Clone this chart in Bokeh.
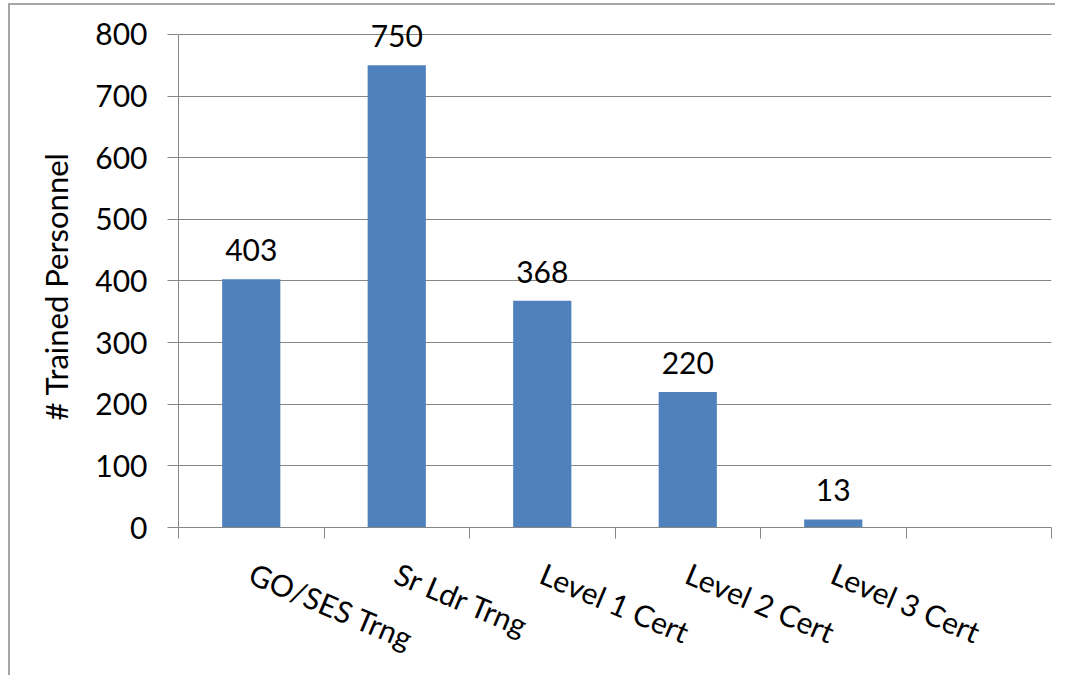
from bokeh.plotting import figure
from bokeh.models import ColumnDataSource, FixedTicker, LabelSet, Range1d, Title
from bokeh.core.properties import value
from bokeh.embed import file_html
from bokeh.resources import INLINE

# ---- data ----
categories = ["GO/SES Trng", "Sr Ldr Trng", "Level 1 Cert", "Level 2 Cert", "Level 3 Cert"]
trained = [403, 750, 368, 220, 13]
y_ticks = [0, 100, 200, 300, 400, 500, 600, 700, 800]
y_title = "# Trained Personnel"
n_slots = 6  # category slots on the axis (last one is empty)

FONT = "Lato"
GRAY = "#868686"
BAR = "#4F81BD"
FS = "30px"
W, H = 1047, 672
Y_HEADROOM = 847  # visible top of the plotting area (room for the data labels)

xs = [i + 0.5 for i in range(len(categories))]
src = ColumnDataSource(dict(x=xs, top=trained, label=[str(v) for v in trained]))

p = figure(width=W, height=H, output_backend="svg", toolbar_location=None,
           x_range=Range1d(0, n_slots), y_range=Range1d(0, Y_HEADROOM),
           min_border_left=168, min_border_right=6, min_border_top=0, min_border_bottom=150)
p.styles = {"margin-left": "8px", "margin-top": "3px",
            "border-top": "2px solid #a6a6a6", "border-left": "2px solid #a6a6a6"}

p.vbar(x="x", top="top", width=0.4, bottom=0, source=src, fill_color=BAR, line_color=None)

labels = LabelSet(x="x", y="top", text="label", source=src, text_align="center",
                  text_baseline="alphabetic", y_offset=18, text_font=value(FONT),
                  text_font_size=value(FS), text_color="black")
p.add_layout(labels)

# x axis: labels at centres, tick marks at slot boundaries
xa = p.xaxis[0]
xa.ticker = FixedTicker(ticks=xs, minor_ticks=list(range(n_slots + 1)))
xa.major_label_overrides = {x: c for x, c in zip(xs, categories)}
xa.major_tick_out = 0
xa.major_tick_in = 0
xa.minor_tick_out = 11
xa.minor_tick_in = 0
xa.minor_tick_line_color = GRAY
xa.axis_line_color = GRAY
xa.major_label_orientation = -0.40
xa.major_label_standoff = 33
xa.major_label_text_font = FONT
xa.major_label_text_font_size = "30px"
xa.major_label_text_color = "black"

ya = p.yaxis[0]
ya.ticker = FixedTicker(ticks=y_ticks)
ya.bounds = (y_ticks[0], y_ticks[-1])
ya.major_tick_out = 11
ya.major_tick_in = 0
ya.minor_tick_out = 0
ya.minor_tick_in = 0
ya.major_tick_line_color = GRAY
ya.axis_line_color = GRAY
ya.major_label_standoff = 20
ya.major_label_text_font = FONT
ya.major_label_text_font_size = FS
ya.major_label_text_color = "black"

# y-axis title, placed along the 0..800 part of the axis
p.add_layout(Title(text=y_title, align="left", offset=107, standoff=36,
                   text_font=FONT, text_font_size="31px", text_font_style="normal",
                   text_color="black"), "left")

p.xgrid.grid_line_color = None
p.ygrid.grid_line_color = GRAY
p.ygrid.grid_line_width = 1
p.outline_line_color = None

open("out.html", "w").write(file_html(p, INLINE))
